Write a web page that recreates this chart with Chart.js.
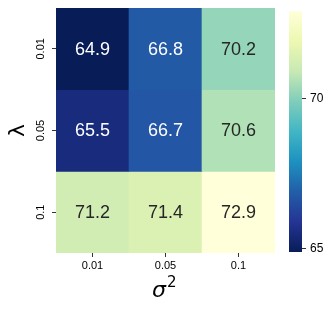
<!DOCTYPE html>
<html>
<head>
<meta charset="utf-8">
<script src="https://cdn.jsdelivr.net/npm/chart.js@4"></script>
<style>
  html, body { margin: 0; padding: 0; background: #fff; }
  #wrap { position: relative; width: 332px; height: 312px; }
  #main { position: absolute; left: 0; top: 0; }
  #cbar { position: absolute; left: 270px; top: 0; }
</style>
</head>
<body>
<div id="wrap">
  <canvas id="main" width="332" height="312"></canvas>
  <canvas id="cbar" width="62" height="312"></canvas>
</div>
<script>
// heatmap data
const sigma2 = ['0.01', '0.05', '0.1'];
const lambdas = ['0.01', '0.05', '0.1'];
const row001 = [64.9, 66.8, 70.2];
const row005 = [65.5, 66.7, 70.6];
const row01 = [71.2, 71.4, 72.9];
const rows = [row001, row005, row01];
const cbTicks = [65, 70];

const vmin = Math.min(...rows.flat());
const vmax = Math.max(...rows.flat());

// YlGnBu, reversed use (low = dark)
const ylgnbu = ['#ffffd9', '#edf8b1', '#c7e9b4', '#7fcdbb', '#41b6c4', '#1d91c0', '#225ea8', '#253494', '#081d58'];
const hex = h => [1, 3, 5].map(i => parseInt(h.substr(i, 2), 16));

function cmap(v) {
  let t = (vmax - v) / (vmax - vmin);
  t = Math.max(0, Math.min(1, t)) * (ylgnbu.length - 1);
  const i = Math.min(Math.floor(t), ylgnbu.length - 2);
  const f = t - i;
  const a = hex(ylgnbu[i]), b = hex(ylgnbu[i + 1]);
  return a.map((c, k) => Math.round(c + (b[k] - c) * f));
}
const rgb = c => `rgb(${c[0]},${c[1]},${c[2]})`;
function lum(c) {
  const l = c.map(x => { x /= 255; return x <= 0.03928 ? x / 12.92 : Math.pow((x + 0.055) / 1.055, 2.4); });
  return 0.2126 * l[0] + 0.7152 * l[1] + 0.0722 * l[2];
}

const FONT = '"Liberation Sans", Arial, sans-serif';

const cellLabels = {
  id: 'cellLabels',
  afterDatasetsDraw(chart) {
    const ctx = chart.ctx;
    ctx.save();
    ctx.font = '18px ' + FONT;
    ctx.textAlign = 'center';
    ctx.textBaseline = 'middle';
    chart.data.datasets.forEach((ds, r) => {
      chart.getDatasetMeta(r).data.forEach((bar, c) => {
        const v = rows[r][c];
        ctx.fillStyle = lum(cmap(v)) > 0.408 ? '#262626' : '#ffffff';
        ctx.fillText(v.toFixed(1), bar.x, (bar.y + bar.base) / 2 + 1);
      });
    });
    // rotated y tick labels
    const ys = chart.scales.y;
    ctx.fillStyle = '#000';
    ctx.font = '11px ' + FONT;
    lambdas.forEach((l, i) => {
      ctx.save();
      ctx.translate(41, ys.getPixelForValue(i + 0.5));
      ctx.rotate(-Math.PI / 2);
      ctx.fillText(l, 0, 0);
      ctx.restore();
    });
    // axis titles
    const area = chart.chartArea;
    ctx.textBaseline = 'alphabetic';
    ctx.font = 'italic 22px "DejaVu Sans", sans-serif';
    ctx.textAlign = 'right';
    ctx.fillText('σ', 166, 297);
    ctx.font = '15px "DejaVu Sans", sans-serif';
    ctx.textAlign = 'left';
    ctx.fillText('2', 167, 287);
    ctx.translate(24, (area.top + area.bottom) / 2);
    ctx.rotate(-Math.PI / 2);
    ctx.textAlign = 'center';
    ctx.font = '22px "DejaVu Sans", sans-serif';
    ctx.fillText('λ', 0, 0);
    ctx.restore();
  }
};

new Chart(document.getElementById('main'), {
  type: 'bar',
  data: {
    labels: sigma2,
    datasets: rows.map((vals, r) => ({
      data: vals.map(() => [r, r + 1]),
      backgroundColor: vals.map(v => rgb(cmap(v))),
      borderWidth: 0,
      grouped: false,
      categoryPercentage: 1,
      barPercentage: 1
    }))
  },
  options: {
    responsive: false,
    animation: false,
    layout: { padding: { left: 0, right: 57, top: 8, bottom: 0 } },
    plugins: { legend: { display: false }, tooltip: { enabled: false } },
    scales: {
      x: {
        grid: { offset: false, drawOnChartArea: false, drawTicks: true, tickLength: 4, color: '#333' },
        border: { display: false },
        ticks: { color: '#000', font: { family: FONT, size: 11 }, padding: 2, maxRotation: 0 },
        afterFit: s => { s.height = 59; }
      },
      y: {
        type: 'linear', min: 0, max: 3, reverse: true,
        afterBuildTicks: s => { s.ticks = lambdas.map((l, i) => ({ value: i + 0.5 })); },
        grid: { drawOnChartArea: false, drawTicks: true, tickLength: 4, color: '#333' },
        border: { display: false },
        ticks: { display: false },
        afterFit: s => { s.width = 56; }
      }
    }
  },
  plugins: [cellLabels]
});

// colorbar
new Chart(document.getElementById('cbar'), {
  type: 'bar',
  data: {
    labels: [''],
    datasets: [{
      data: [[vmin, vmax]],
      borderWidth: 0,
      categoryPercentage: 1,
      barPercentage: 1,
      backgroundColor: ctx => {
        const area = ctx.chart.chartArea;
        if (!area) return '#888';
        const g = ctx.chart.ctx.createLinearGradient(0, area.top, 0, area.bottom);
        ylgnbu.forEach((c, i) => g.addColorStop(i / (ylgnbu.length - 1), c));
        return g;
      }
    }]
  },
  options: {
    responsive: false,
    animation: false,
    layout: { padding: { left: 19, right: 0, top: 8, bottom: 60 } },
    plugins: { legend: { display: false }, tooltip: { enabled: false } },
    scales: {
      x: { display: false },
      y: {
        position: 'right', min: vmin, max: vmax,
        afterBuildTicks: s => { s.ticks = cbTicks.map(v => ({ value: v })); },
        grid: { drawOnChartArea: false, drawTicks: true, tickLength: 4, color: '#333' },
        border: { display: false },
        ticks: { color: '#000', font: { family: FONT, size: 12 }, padding: 4 },
        afterFit: s => { s.width = 30; }
      }
    }
  }
});
</script>
</body>
</html>
